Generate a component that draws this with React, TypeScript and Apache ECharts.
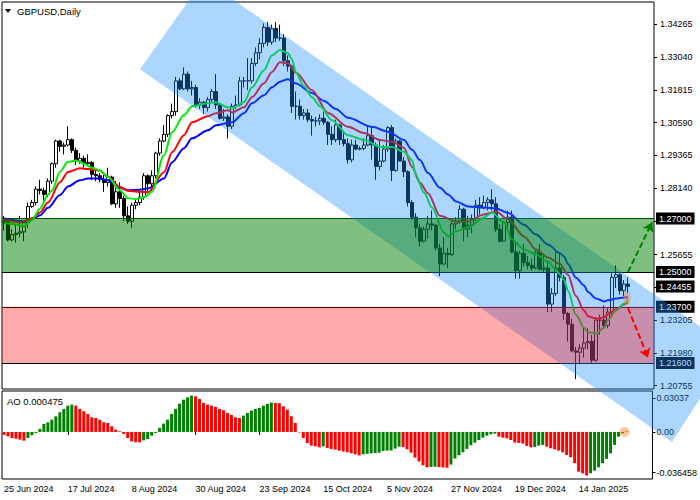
import React, { useEffect, useRef } from "react";
import * as echarts from "echarts";

const FONT = "'Liberation Sans', Arial, sans-serif";

// x-axis tick labels, one every 16 daily bars
const tickLabels = ["25 Jun 2024", "17 Jul 2024", "8 Aug 2024", "30 Aug 2024", "23 Sep 2024", "15 Oct 2024", "5 Nov 2024", "27 Nov 2024", "19 Dec 2024", "14 Jan 2025"];
const labelStep = 16;
const slotCount = 163; // 157 bars + empty shift on the right

const opens = [
  1.2685, 1.2690, 1.2620, 1.2640, 1.2645, 1.2650, 1.2685, 1.2745, 1.2760, 1.2810,
  1.2805, 1.2790, 1.2840, 1.2905, 1.2990, 1.2970, 1.2975, 1.2995, 1.2955, 1.2915,
  1.2925, 1.2905, 1.2910, 1.2865, 1.2860, 1.2845, 1.2835, 1.2855, 1.2755, 1.2800,
  1.2775, 1.2710, 1.2690, 1.2750, 1.2760, 1.2780, 1.2860, 1.2830, 1.2860, 1.2945,
  1.2990, 1.3015, 1.3085, 1.3100, 1.3215, 1.3185, 1.3240, 1.3185, 1.3190, 1.3125,
  1.3135, 1.3115, 1.3145, 1.3175, 1.3125, 1.3075, 1.3080, 1.3045, 1.3120, 1.3125,
  1.3215, 1.3215, 1.3215, 1.3280, 1.3320, 1.3355, 1.3415, 1.3360, 1.3410, 1.3375,
  1.3375, 1.3290, 1.3270, 1.3120, 1.3120, 1.3085, 1.3095, 1.3070, 1.3065, 1.3065,
  1.3075, 1.3060, 1.3015, 1.2995, 1.3050, 1.2995, 1.2980, 1.2920, 1.2975, 1.2960,
  1.2962, 1.2975, 1.3010, 1.2975, 1.2895, 1.2915, 1.2960, 1.3040, 1.2880, 1.2990,
  1.2915, 1.2875, 1.2760, 1.2705, 1.2665, 1.2615, 1.2660, 1.2680, 1.2675, 1.2590,
  1.2530, 1.2570, 1.2565, 1.2680, 1.2690, 1.2735, 1.2660, 1.2675, 1.2700, 1.2750,
  1.2740, 1.2760, 1.2770, 1.2755, 1.2660, 1.2615, 1.2685, 1.2705, 1.2575, 1.2505,
  1.2570, 1.2535, 1.2525, 1.2515, 1.2575, 1.2510, 1.2515, 1.2380, 1.2420, 1.2515,
  1.2480, 1.2345, 1.2305, 1.2205, 1.2200, 1.2215, 1.2235, 1.2240, 1.2170, 1.2320,
  1.2320, 1.2300, 1.2350, 1.2480, 1.2490, 1.2430, 1.2455,
];
const highs = [
  1.2710, 1.2700, 1.2660, 1.2680, 1.2710, 1.2690, 1.2760, 1.2770, 1.2820, 1.2845,
  1.2815, 1.2850, 1.2910, 1.2995, 1.2995, 1.2985, 1.3045, 1.3000, 1.2965, 1.2945,
  1.2935, 1.2940, 1.2915, 1.2880, 1.2870, 1.2870, 1.2890, 1.2860, 1.2840, 1.2835,
  1.2785, 1.2745, 1.2760, 1.2770, 1.2800, 1.2870, 1.2865, 1.2880, 1.2950, 1.3000,
  1.3050, 1.3090, 1.3130, 1.3230, 1.3225, 1.3265, 1.3250, 1.3215, 1.3200, 1.3150,
  1.3140, 1.3155, 1.3185, 1.3240, 1.3130, 1.3110, 1.3090, 1.3130, 1.3160, 1.3230,
  1.3230, 1.3300, 1.3300, 1.3340, 1.3375, 1.3430, 1.3435, 1.3425, 1.3435, 1.3425,
  1.3390, 1.3310, 1.3275, 1.3175, 1.3145, 1.3110, 1.3110, 1.3085, 1.3080, 1.3090,
  1.3100, 1.3065, 1.3045, 1.3070, 1.3055, 1.3025, 1.3000, 1.2995, 1.2995, 1.2970,
  1.3000, 1.3045, 1.3045, 1.2985, 1.2995, 1.2975, 1.3045, 1.3050, 1.3000, 1.2995,
  1.2930, 1.2880, 1.2770, 1.2720, 1.2680, 1.2670, 1.2710, 1.2730, 1.2680, 1.2605,
  1.2630, 1.2590, 1.2690, 1.2705, 1.2750, 1.2740, 1.2710, 1.2715, 1.2770, 1.2780,
  1.2785, 1.2780, 1.2810, 1.2780, 1.2680, 1.2690, 1.2730, 1.2730, 1.2610, 1.2580,
  1.2605, 1.2560, 1.2550, 1.2585, 1.2605, 1.2560, 1.2540, 1.2440, 1.2575, 1.2575,
  1.2490, 1.2350, 1.2325, 1.2220, 1.2230, 1.2295, 1.2290, 1.2265, 1.2330, 1.2340,
  1.2375, 1.2365, 1.2495, 1.2525, 1.2495, 1.2470, 1.2480,
];
const lows = [
  1.2655, 1.2615, 1.2615, 1.2610, 1.2630, 1.2615, 1.2665, 1.2740, 1.2750, 1.2790,
  1.2760, 1.2780, 1.2830, 1.2890, 1.2950, 1.2940, 1.2970, 1.2945, 1.2900, 1.2905,
  1.2890, 1.2895, 1.2845, 1.2840, 1.2835, 1.2800, 1.2820, 1.2750, 1.2740, 1.2740,
  1.2690, 1.2680, 1.2665, 1.2735, 1.2750, 1.2770, 1.2800, 1.2800, 1.2850, 1.2935,
  1.2985, 1.3005, 1.3075, 1.3085, 1.3180, 1.3180, 1.3175, 1.3160, 1.3115, 1.3110,
  1.3090, 1.3100, 1.3135, 1.3110, 1.3070, 1.3065, 1.3000, 1.3035, 1.3110, 1.3120,
  1.3190, 1.3180, 1.3205, 1.3270, 1.3295, 1.3340, 1.3345, 1.3350, 1.3360, 1.3365,
  1.3270, 1.3250, 1.3095, 1.3070, 1.3070, 1.3070, 1.3060, 1.3010, 1.3045, 1.3050,
  1.3050, 1.2975, 1.2975, 1.2985, 1.2975, 1.2970, 1.2905, 1.2910, 1.2955, 1.2955,
  1.2955, 1.2970, 1.2920, 1.2845, 1.2880, 1.2910, 1.2950, 1.2840, 1.2875, 1.2915,
  1.2855, 1.2745, 1.2695, 1.2630, 1.2595, 1.2610, 1.2625, 1.2655, 1.2580, 1.2485,
  1.2525, 1.2515, 1.2560, 1.2660, 1.2680, 1.2615, 1.2630, 1.2645, 1.2690, 1.2715,
  1.2735, 1.2730, 1.2730, 1.2650, 1.2610, 1.2615, 1.2660, 1.2570, 1.2475, 1.2475,
  1.2520, 1.2510, 1.2505, 1.2510, 1.2505, 1.2500, 1.2350, 1.2350, 1.2410, 1.2465,
  1.2320, 1.2240, 1.2200, 1.2100, 1.2160, 1.2180, 1.2210, 1.2160, 1.2165, 1.2265,
  1.2290, 1.2290, 1.2335, 1.2440, 1.2415, 1.2410, 1.2420,
];
const closes = [
  1.2690, 1.2620, 1.2640, 1.2645, 1.2650, 1.2685, 1.2745, 1.2760, 1.2810, 1.2805,
  1.2790, 1.2840, 1.2905, 1.2990, 1.2970, 1.2975, 1.2995, 1.2955, 1.2915, 1.2925,
  1.2905, 1.2910, 1.2865, 1.2860, 1.2845, 1.2835, 1.2855, 1.2755, 1.2800, 1.2775,
  1.2710, 1.2690, 1.2750, 1.2760, 1.2780, 1.2860, 1.2830, 1.2860, 1.2945, 1.2990,
  1.3015, 1.3085, 1.3100, 1.3215, 1.3185, 1.3240, 1.3185, 1.3190, 1.3125, 1.3135,
  1.3115, 1.3145, 1.3175, 1.3125, 1.3075, 1.3080, 1.3045, 1.3120, 1.3125, 1.3215,
  1.3215, 1.3215, 1.3280, 1.3320, 1.3355, 1.3415, 1.3360, 1.3410, 1.3375, 1.3375,
  1.3290, 1.3270, 1.3120, 1.3120, 1.3085, 1.3095, 1.3070, 1.3065, 1.3065, 1.3075,
  1.3060, 1.3015, 1.2995, 1.3050, 1.2995, 1.2980, 1.2920, 1.2975, 1.2960, 1.2962,
  1.2975, 1.3010, 1.2975, 1.2895, 1.2915, 1.2960, 1.3040, 1.2880, 1.2990, 1.2915,
  1.2875, 1.2760, 1.2705, 1.2665, 1.2615, 1.2660, 1.2680, 1.2675, 1.2590, 1.2530,
  1.2570, 1.2565, 1.2680, 1.2690, 1.2735, 1.2660, 1.2675, 1.2700, 1.2750, 1.2740,
  1.2760, 1.2770, 1.2755, 1.2660, 1.2615, 1.2685, 1.2705, 1.2575, 1.2505, 1.2570,
  1.2535, 1.2525, 1.2515, 1.2575, 1.2510, 1.2515, 1.2380, 1.2420, 1.2515, 1.2480,
  1.2345, 1.2305, 1.2205, 1.2200, 1.2215, 1.2235, 1.2240, 1.2170, 1.2320, 1.2320,
  1.2300, 1.2350, 1.2480, 1.2490, 1.2430, 1.2455, 1.24455,
];

// Alligator-style lines: [bar index, price]
const jaw: [number, number][] = [
  [0, 1.2700], [5, 1.2690], [8, 1.2705], [9, 1.2712], [11, 1.2740], [14, 1.2788], [16, 1.2820], [19, 1.2843],
  [21, 1.2850], [24, 1.2850], [26, 1.2843], [29, 1.2815], [31, 1.2806], [34, 1.2808], [36, 1.2813], [40, 1.2850],
  [42, 1.2910], [45, 1.2963], [47, 1.3000], [51, 1.3030], [53, 1.3049], [56, 1.3057], [57, 1.3060], [60, 1.3094],
  [62, 1.3131], [65, 1.3161], [67, 1.3191], [69, 1.3212], [71, 1.3221], [73, 1.3205], [77, 1.3170], [80, 1.3140],
  [83, 1.3110], [86, 1.3077], [92, 1.3043], [96, 1.3025], [100, 1.2994], [102, 1.2957], [104, 1.2919], [106, 1.2870],
  [109, 1.2815], [111, 1.2790], [113, 1.2764], [116, 1.2745], [120, 1.2741], [123, 1.2738], [126, 1.2722], [130, 1.2677],
  [133, 1.2640], [136, 1.2603], [139, 1.2570], [140, 1.2558], [141, 1.2530], [143, 1.2479], [145, 1.2450], [146, 1.2425],
  [148, 1.2401], [150, 1.2390], [151, 1.2394], [153, 1.2401], [155, 1.2405], [156, 1.2406],
];
const teeth: [number, number][] = [
  [0, 1.2695], [4, 1.2685], [7, 1.2700], [9, 1.2723], [11, 1.2760], [14, 1.2836], [16, 1.2874], [19, 1.2888],
  [21, 1.2885], [24, 1.2879], [26, 1.2856], [29, 1.2818], [31, 1.2804], [34, 1.2800], [36, 1.2798], [40, 1.2873],
  [42, 1.2948], [45, 1.3012], [47, 1.3060], [51, 1.3083], [53, 1.3094], [56, 1.3105], [57, 1.3097], [60, 1.3116],
  [62, 1.3154], [65, 1.3206], [67, 1.3248], [69, 1.3285], [71, 1.3281], [73, 1.3245], [77, 1.3180], [81, 1.3095],
  [86, 1.3043], [90, 1.3020], [94, 1.2994], [97, 1.2987], [100, 1.2965], [102, 1.2893], [104, 1.2834], [106, 1.2795],
  [109, 1.2710], [113, 1.2689], [116, 1.2689], [120, 1.2715], [123, 1.2726], [126, 1.2697], [130, 1.2633], [133, 1.2584],
  [136, 1.2554], [139, 1.2530], [141, 1.2490], [143, 1.2410], [145, 1.2356], [146, 1.2335], [148, 1.2326], [150, 1.2330],
  [151, 1.2341], [153, 1.2360], [155, 1.2379], [156, 1.2386],
];
const lips: [number, number][] = [
  [0, 1.2683], [3, 1.2678], [5, 1.2672], [7, 1.2695], [9, 1.2737], [11, 1.2790], [12, 1.2805], [14, 1.2875],
  [16, 1.2912], [18, 1.2917], [20, 1.2905], [22, 1.2890], [24, 1.2880], [26, 1.2855], [29, 1.2806], [31, 1.2776],
  [33, 1.2773], [35, 1.2780], [37, 1.2800], [40, 1.2937], [42, 1.3023], [45, 1.3087], [47, 1.3120], [51, 1.3131],
  [53, 1.3135], [56, 1.3116], [57, 1.3112], [60, 1.3135], [62, 1.3191], [65, 1.3255], [67, 1.3311], [69, 1.3330],
  [71, 1.3318], [72, 1.3295], [73, 1.3245], [75, 1.3195], [77, 1.3154], [79, 1.3120], [82, 1.3068], [86, 1.3012],
  [90, 1.2994], [94, 1.2968], [97, 1.2968], [100, 1.2950], [102, 1.2919], [103, 1.2860], [105, 1.2797], [107, 1.2741],
  [110, 1.2648], [111, 1.2633], [113, 1.2652], [116, 1.2667], [120, 1.2704], [122, 1.2722], [125, 1.2685], [127, 1.2622],
  [130, 1.2584], [133, 1.2566], [136, 1.2539], [138, 1.2510], [139, 1.2490], [140, 1.2470], [141, 1.2430], [143, 1.2340],
  [145, 1.2292], [146, 1.2275], [148, 1.2270], [150, 1.2292], [151, 1.2320], [153, 1.2356], [155, 1.2382], [156, 1.2397],
];

// Awesome Oscillator per bar
const ao = [
  -0.0024, -0.0039, -0.0054, -0.0060, -0.0069, -0.0078,
  -0.0054, -0.0030, -0.0009,
  0.0027, 0.0072, 0.0086, 0.0110, 0.0140, 0.0176, 0.0206, 0.0235, 0.0244,
  0.0235, 0.0206, 0.0185, 0.0161, 0.0131, 0.0125, 0.0110, 0.0086, 0.0080, 0.0051, 0.0021, 0.0006,
  -0.0018, -0.0054, -0.0084, -0.0092, -0.0093,
  -0.0075, -0.0063, -0.0033, -0.0009,
  0.0036, 0.0075, 0.0110, 0.0161, 0.0206, 0.0253, 0.0289, 0.0310, 0.0325,
  0.0319, 0.0295, 0.0259, 0.0244, 0.0235, 0.0224, 0.0206, 0.0194, 0.0170, 0.0152, 0.0131, 0.0125,
  0.0146, 0.0170, 0.0191, 0.0206, 0.0215, 0.0235, 0.0250, 0.0262,
  0.0259, 0.0257, 0.0229, 0.0200, 0.0140, 0.0080,
  -0.0004, -0.0054, -0.0099, -0.0122, -0.0128, -0.0137,
  -0.0128,
  -0.0143, -0.0152, -0.0158, -0.0167, -0.0175, -0.0182, -0.0190, -0.0200, -0.0210,
  -0.0200, -0.0196, -0.0192, -0.0188, -0.0185, -0.0170, -0.0167, -0.0166, -0.0149, -0.0131,
  -0.0134, -0.0155, -0.0185, -0.0229, -0.0265, -0.0298, -0.0316,
  -0.0313, -0.0310,
  -0.0314, -0.0318, -0.0320,
  -0.0292, -0.0238, -0.0209, -0.0182, -0.0152, -0.0119, -0.0095, -0.0072, -0.0051, -0.0033, -0.0021, -0.0015,
  -0.0042, -0.0051, -0.0057, -0.0072, -0.0095, -0.0098, -0.0104, -0.0125, -0.0137,
  -0.0134, -0.0122, -0.0116,
  -0.0131, -0.0146, -0.0155, -0.0167, -0.0182, -0.0206, -0.0226, -0.0280, -0.0355, -0.0370, -0.0390,
  -0.0370, -0.0346, -0.0316, -0.0280, -0.0241, -0.0191, -0.0116, -0.0042, -0.0012, 0.000475,
];

// axes
const priceTicks = [1.34265, 1.3304, 1.31815, 1.3059, 1.29365, 1.2814, 1.26915, 1.25655, 1.2443, 1.23205, 1.2198, 1.20755];
const priceMin = 1.20625;
const priceMax = 1.35099;
const aoTicks = [0.03037, 0, -0.036458];
const aoMin = -0.04209;
const aoMax = 0.03663;

// annotations
const levelLines = [1.27, 1.25, 1.237, 1.216];
const levelColors = ["#003c00", "#000000", "#000000", "#000000"];
const lastPrice = 1.24455;
const greenZone = [1.27, 1.25];
const redZone = [1.237, 1.216];
const channelCorners: [number, number][] = [[34, 1.32582], [50, 1.35961], [182, 1.22121], [167, 1.18643]];
const arrowUp: [number, number][] = [[156, 1.25], [162, 1.2685]];
const arrowDown: [number, number][] = [[156, 1.2365], [161, 1.218]];
const focusMain: [number, number] = [156, 1.2400];
const focusAo: [number, number] = [156, 0];

const categories = Array.from({ length: slotCount }, (_, i) =>
  i % labelStep === 0 && tickLabels[i / labelStep] ? tickLabels[i / labelStep] : "b" + i
);
const isLabelled = (i: number) => i % labelStep === 0 && i / labelStep < tickLabels.length;

export default function App() {
  const ref = useRef<HTMLDivElement>(null);

  useEffect(() => {
    if (!ref.current) return;
    const chart = echarts.init(ref.current, null, { renderer: "svg" });

    const candleData = opens.map((o, i) => [o, closes[i], lows[i], highs[i]]);
    const aoData = ao.map((v, i) => ({
      value: v,
      itemStyle: { color: i > 0 && v > ao[i - 1] ? "#008000" : "#ff0000" },
    }));

    const boxLabel = {
      show: true,
      position: "end",
      distance: 2,
      formatter: (p: any) => Number(p.value).toFixed(5),
      color: "#fff",
      backgroundColor: "#000",
      padding: [2, 3, 1, 3],
      fontSize: 9,
      fontFamily: FONT,
    };

    const option: any = {
      animation: false,
      backgroundColor: "#fff",
      textStyle: { fontFamily: FONT },
      grid: [
        { left: 2, right: 46, top: 2, height: 387, show: true, borderColor: "#000", borderWidth: 1, backgroundColor: "transparent" },
        { left: 2, right: 46, top: 391, height: 88, show: true, borderColor: "#000", borderWidth: 1, backgroundColor: "transparent" },
      ],
      xAxis: [
        {
          type: "category", gridIndex: 0, data: categories, boundaryGap: true,
          axisLine: { show: false }, axisTick: { show: false }, axisLabel: { show: false }, splitLine: { show: false },
        },
        {
          type: "category", gridIndex: 1, data: categories, boundaryGap: true,
          axisLine: { show: false },
          axisTick: { show: true, alignWithLabel: true, interval: (i: number) => isLabelled(i), length: 3, lineStyle: { color: "#000" } },
          axisLabel: {
            interval: (i: number) => isLabelled(i), align: "left", fontSize: 9, color: "#000", margin: 5, fontFamily: FONT,
          },
          splitLine: { show: false },
        },
      ],
      yAxis: [
        {
          type: "value", gridIndex: 0, position: "right", min: priceMin, max: priceMax,
          axisLine: { show: false }, splitLine: { show: false },
          axisTick: { show: true, customValues: priceTicks, length: 3, lineStyle: { color: "#000" } },
          axisLabel: { customValues: priceTicks, formatter: (v: number) => v.toFixed(5), color: "#000", fontSize: 9, margin: 6, fontFamily: FONT },
        },
        {
          type: "value", gridIndex: 1, position: "right", min: aoMin, max: aoMax,
          axisLine: { show: false }, splitLine: { show: false },
          axisTick: { show: true, customValues: aoTicks, length: 3, lineStyle: { color: "#000" } },
          axisLabel: {
            customValues: aoTicks, formatter: (v: number) => (v === 0 ? "0.00" : String(v)), color: "#000", fontSize: 9, margin: 4, fontFamily: FONT,
          },
        },
      ],
      series: [
        {
          type: "candlestick", xAxisIndex: 0, yAxisIndex: 0, data: candleData, barWidth: 3,
          itemStyle: { color: "#ffffff", color0: "#000000", borderColor: "#000000", borderColor0: "#000000", borderWidth: 1 },
          markLine: {
            silent: true, z: 3, symbol: ["none", "none"], animation: false, precision: 5,
            data: [
              ...levelLines.map((v, k) => ({ yAxis: v, lineStyle: { color: levelColors[k], width: 1, type: "solid" }, label: boxLabel })),
              { yAxis: lastPrice, lineStyle: { color: "rgba(0,0,0,0)", width: 0 }, label: boxLabel },
            ],
          },
          markArea: {
            silent: true, z: 12,
            label: { show: false },
            data: [
              [{ yAxis: greenZone[0], itemStyle: { color: "rgba(0,128,0,0.5)" } }, { yAxis: greenZone[1] }],
              [{ yAxis: redZone[0], itemStyle: { color: "rgba(255,0,0,0.33)" } }, { yAxis: redZone[1] }],
            ],
          },
        },
        {
          type: "line", xAxisIndex: 0, yAxisIndex: 0, data: jaw, showSymbol: false, smooth: 0.3, smoothMonotone: "x",
          lineStyle: { color: "#0000ff", width: 2 }, itemStyle: { color: "#0000ff" },
        },
        {
          type: "line", xAxisIndex: 0, yAxisIndex: 0, data: teeth, showSymbol: false, smooth: 0.3, smoothMonotone: "x",
          lineStyle: { color: "#ff0000", width: 2 }, itemStyle: { color: "#ff0000" },
        },
        {
          type: "line", xAxisIndex: 0, yAxisIndex: 0, data: lips, showSymbol: false, smooth: 0.3, smoothMonotone: "x",
          lineStyle: { color: "#00ee00", width: 2 }, itemStyle: { color: "#00ee00" },
          markLine: {
            silent: true, z: 30, symbol: ["none", "arrow"], symbolSize: 9, animation: false, precision: 5,
            label: { show: false },
            data: [
              [
                { coord: arrowUp[0], lineStyle: { color: "#008000", width: 2, type: [6, 3] } },
                { coord: arrowUp[1] },
              ],
              [
                { coord: arrowDown[0], lineStyle: { color: "#ff0000", width: 2, type: [6, 3] } },
                { coord: arrowDown[1] },
              ],
            ],
          },
        },
        {
          type: "bar", xAxisIndex: 1, yAxisIndex: 1, data: aoData, barWidth: 3,
        },
      ],
    };

    chart.setOption(option);

    const px = (pt: number[], g: number) => chart.convertToPixel({ xAxisIndex: g, yAxisIndex: g }, pt) as number[];
    const channelPts = channelCorners.map((c) => px(c, 0));
    const fm = px(focusMain, 0);
    const fa = px(focusAo, 1);

    chart.setOption({
      graphic: [
        { type: "polygon", silent: true, z: 10, shape: { points: channelPts }, style: { fill: "rgba(30,144,255,0.37)" } },
        { type: "ellipse", silent: true, z: 31, shape: { cx: fm[0] - 1, cy: fm[1], rx: 3.5, ry: 7 }, style: { fill: "rgba(255,127,39,0.45)" } },
        { type: "circle", silent: true, z: 31, shape: { cx: fa[0] - 2, cy: fa[1], r: 5 }, style: { fill: "rgba(255,127,39,0.45)" } },
        { type: "polygon", silent: true, z: 40, shape: { points: [[5, 9], [11, 9], [8, 13]] }, style: { fill: "#000" } },
        {
          type: "text", silent: true, z: 40, x: 17, y: 11.5,
          style: { text: "GBPUSD,Daily", fontSize: 9.5, fontFamily: FONT, fill: "#000", verticalAlign: "middle" },
        },
        {
          type: "text", silent: true, z: 40, x: 7, y: 401,
          style: { text: "AO " + ao[ao.length - 1], fontSize: 9.5, fontFamily: FONT, fill: "#000", verticalAlign: "middle" },
        },
      ],
    });

    return () => chart.dispose();
  }, []);

  return (
    <div
      ref={ref}
      style={{ position: "fixed", left: 0, top: 0, width: 700, height: 500, background: "#fff" }}
    />
  );
}
